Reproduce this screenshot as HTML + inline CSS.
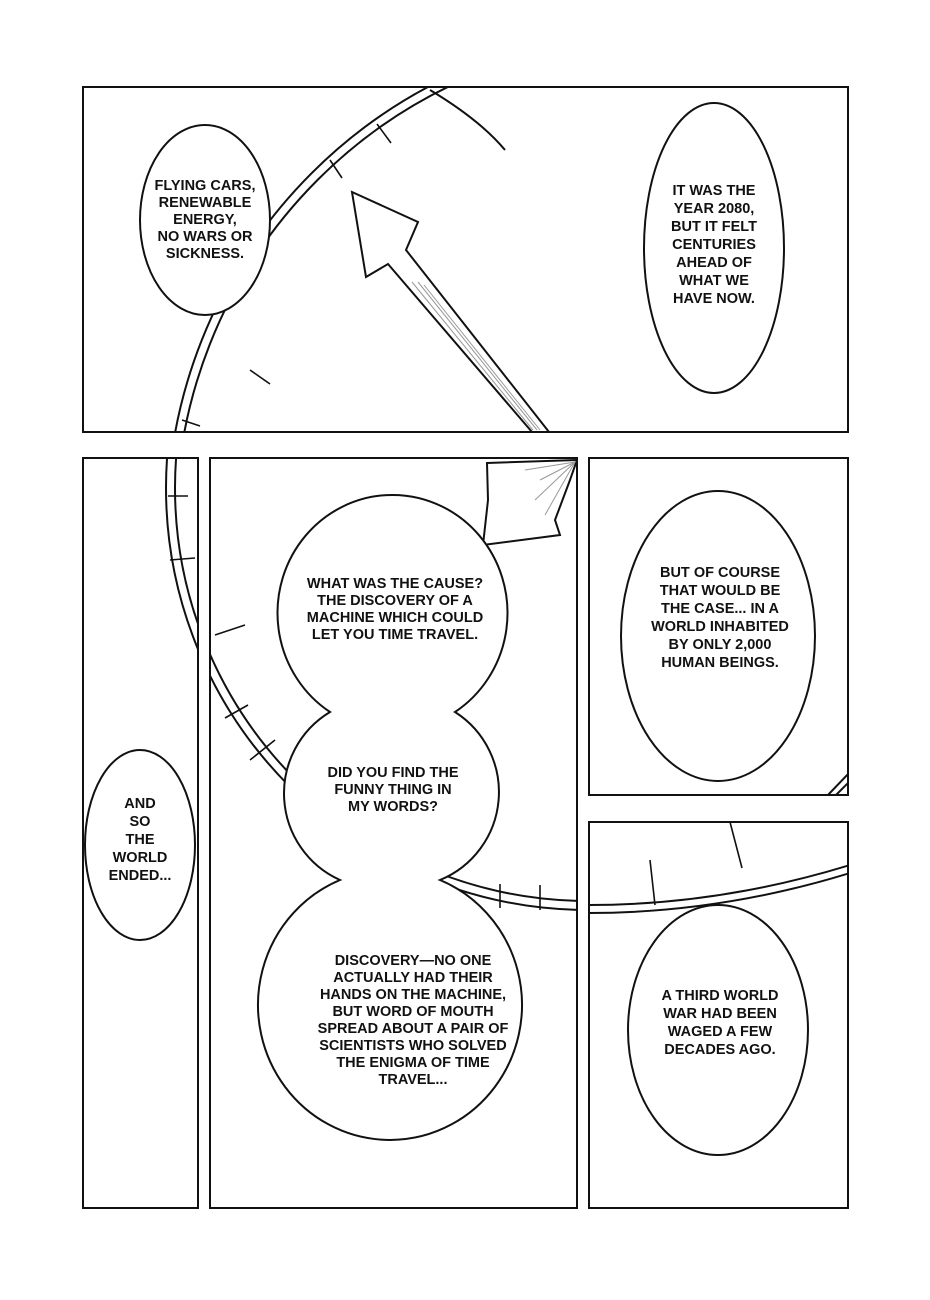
<!DOCTYPE html>
<html><head><style>
body{margin:0;background:#fff;}
svg{display:block;}
text{font-family:"Liberation Sans",sans-serif;font-size:14.5px;font-weight:bold;fill:#111;text-anchor:middle;}
</style></head><body>
<svg width="930" height="1300" viewBox="0 0 930 1300" xmlns="http://www.w3.org/2000/svg">
<defs>
<clipPath id="p1"><rect x="83" y="87" width="765" height="345"/></clipPath>
<clipPath id="p2"><rect x="83" y="458" width="115" height="750"/></clipPath>
<clipPath id="p3"><rect x="210" y="458" width="367" height="750"/></clipPath>
<clipPath id="p4"><rect x="589" y="458" width="259" height="337"/></clipPath>
<clipPath id="p5"><rect x="589" y="822" width="259" height="386"/></clipPath>
<g id="clock" fill="none" stroke="#111" stroke-width="2">
<circle cx="588" cy="488" r="422"/>
<circle cx="588" cy="488" r="413"/>
<g stroke-width="1.6">
<line x1="168" y1="496" x2="188" y2="496"/>
<line x1="170" y1="560" x2="195" y2="558"/>
<line x1="215" y1="635" x2="245" y2="625"/>
<line x1="225" y1="718" x2="248" y2="705"/>
<line x1="250" y1="760" x2="275" y2="740"/>
<line x1="500" y1="908" x2="500" y2="884"/>
<line x1="540" y1="910" x2="540" y2="885"/>
</g>
</g>
</defs>
<g fill="none" stroke="#111" stroke-width="2">
<rect x="83" y="87" width="765" height="345"/>
<rect x="83" y="458" width="115" height="750"/>
<rect x="210" y="458" width="367" height="750"/>
<rect x="589" y="458" width="259" height="337"/>
<rect x="589" y="822" width="259" height="386"/>
</g>
<g clip-path="url(#p1)">
<g fill="none" stroke="#111" stroke-width="2">
<circle cx="660" cy="522" r="493"/>
<circle cx="660" cy="522" r="484"/>
<g stroke-width="1.6">
<line x1="377" y1="124" x2="391" y2="143"/>
<line x1="330" y1="160" x2="342" y2="178"/>
<line x1="250" y1="370" x2="270" y2="384"/>
<line x1="182" y1="420" x2="200" y2="426"/>
</g>
<path d="M430 90 Q480 120 505 150"/>
</g>
<path d="M352 192 L418 222 L406 250 L549 432 L532 432 L388 264 L366 277 Z" fill="#fff" stroke="#111" stroke-width="2"/>
<g stroke="#999" stroke-width="1"><line x1="412" y1="282" x2="533" y2="430"/><line x1="418" y1="282" x2="537" y2="430"/><line x1="424" y1="285" x2="540" y2="430"/></g>
</g>
<g clip-path="url(#p2)"><use href="#clock"/></g>
<g clip-path="url(#p3)"><use href="#clock"/>
<path d="M487 463 L577 460 L570 480 L555 520 L560 535 L483 545 L488 500 Z" fill="#fff" stroke="#111" stroke-width="2"/>
<g stroke="#999" stroke-width="1"><line x1="575" y1="462" x2="540" y2="480"/><line x1="575" y1="462" x2="535" y2="500"/><line x1="575" y1="462" x2="545" y2="515"/><line x1="575" y1="462" x2="525" y2="470"/></g>
</g>
<g clip-path="url(#p4)" fill="none" stroke="#111" stroke-width="2">
<line x1="828" y1="795" x2="850" y2="772"/>
<line x1="836" y1="795" x2="850" y2="781"/>
</g>
<g clip-path="url(#p5)" fill="none" stroke="#111" stroke-width="2">
<path d="M589 905 Q720 905 850 865"/>
<path d="M589 913 Q720 913 850 873"/>
<line x1="650" y1="860" x2="655" y2="905" stroke-width="1.6"/>
<line x1="730" y1="822" x2="742" y2="868" stroke-width="1.6"/>
</g>
<g fill="#fff" stroke="#111" stroke-width="2">
<ellipse cx="205" cy="220" rx="65" ry="95"/>
<ellipse cx="714" cy="248" rx="70" ry="145"/>
<ellipse cx="140" cy="845" rx="55" ry="95"/>
<ellipse cx="718" cy="636" rx="97" ry="145"/>
<ellipse cx="718" cy="1030" rx="90" ry="125"/>
<path d="M330 712 A115 118 0 1 1 455 712 A95 95 0 0 1 440 880 A132 135 0 1 1 340 880 A95 95 0 0 1 330 712 Z"/>
</g>
<text x="205" y="190">FLYING CARS,</text>
<text x="205" y="207">RENEWABLE</text>
<text x="205" y="224">ENERGY,</text>
<text x="205" y="241">NO WARS OR</text>
<text x="205" y="258">SICKNESS.</text>
<text x="714" y="195">IT WAS THE</text>
<text x="714" y="213">YEAR 2080,</text>
<text x="714" y="231">BUT IT FELT</text>
<text x="714" y="249">CENTURIES</text>
<text x="714" y="267">AHEAD OF</text>
<text x="714" y="285">WHAT WE</text>
<text x="714" y="303">HAVE NOW.</text>
<text x="140" y="808">AND</text>
<text x="140" y="826">SO</text>
<text x="140" y="844">THE</text>
<text x="140" y="862">WORLD</text>
<text x="140" y="880">ENDED...</text>
<text x="395" y="588">WHAT WAS THE CAUSE?</text>
<text x="395" y="605">THE DISCOVERY OF A</text>
<text x="395" y="622">MACHINE WHICH COULD</text>
<text x="395" y="639">LET YOU TIME TRAVEL.</text>
<text x="393" y="777">DID YOU FIND THE</text>
<text x="393" y="794">FUNNY THING IN</text>
<text x="393" y="811">MY WORDS?</text>
<text x="413" y="965">DISCOVERY—NO ONE</text>
<text x="413" y="982">ACTUALLY HAD THEIR</text>
<text x="413" y="999">HANDS ON THE MACHINE,</text>
<text x="413" y="1016">BUT WORD OF MOUTH</text>
<text x="413" y="1033">SPREAD ABOUT A PAIR OF</text>
<text x="413" y="1050">SCIENTISTS WHO SOLVED</text>
<text x="413" y="1067">THE ENIGMA OF TIME</text>
<text x="413" y="1084">TRAVEL...</text>
<text x="720" y="577">BUT OF COURSE</text>
<text x="720" y="595">THAT WOULD BE</text>
<text x="720" y="613">THE CASE... IN A</text>
<text x="720" y="631">WORLD INHABITED</text>
<text x="720" y="649">BY ONLY 2,000</text>
<text x="720" y="667">HUMAN BEINGS.</text>
<text x="720" y="1000">A THIRD WORLD</text>
<text x="720" y="1018">WAR HAD BEEN</text>
<text x="720" y="1036">WAGED A FEW</text>
<text x="720" y="1054">DECADES AGO.</text>
</svg>
</body></html>
